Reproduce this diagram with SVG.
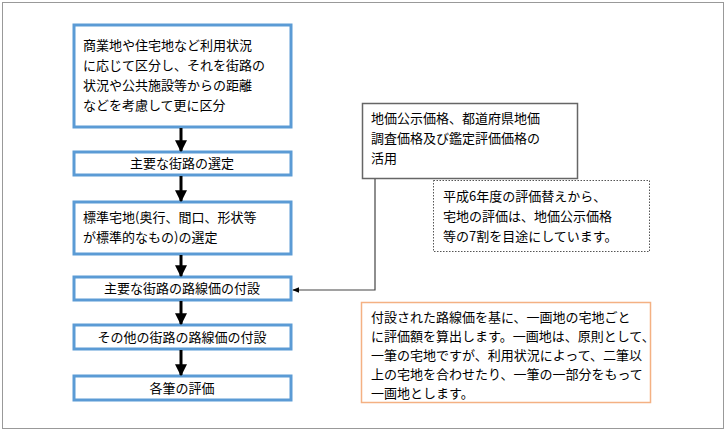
<svg xmlns="http://www.w3.org/2000/svg" width="727" height="432" viewBox="0 0 727 432">
<style>
text{font-family:"Noto Sans CJK JP","Noto Sans CJK SC",sans-serif;font-size:13px;fill:#000}
.b{fill:#fff;stroke:#5b9bd5;stroke-width:3}
.c{text-anchor:middle}
</style>
<defs>
<marker id="a" viewBox="0 0 10 10" refX="9" refY="5" markerWidth="4" markerHeight="4" orient="auto"><path d="M0,0L10,5L0,10z" fill="#000"/></marker>
<marker id="s" viewBox="0 0 10 10" refX="9" refY="5" markerWidth="6" markerHeight="6" orient="auto"><path d="M0,1L10,5L0,9z" fill="#000"/></marker>
</defs>
<rect x="2.5" y="2.5" width="721" height="426" fill="#fff" stroke="#999"/>
<g id="n1"><rect class="b" x="74" y="25" width="217" height="102"/>
<text x="83" y="50">商業地や住宅地など利用状況</text><text x="83" y="70">に応じて区分し、それを街路の</text><text x="83" y="90">状況や公共施設等からの距離</text><text x="83" y="110">などを考慮して更に区分</text></g>
<g id="n2"><rect class="b" x="74" y="152" width="217" height="23"/><text class="c" x="182" y="168">主要な街路の選定</text></g>
<g id="n3"><rect class="b" x="74" y="202" width="217" height="52"/><text x="83" y="222">標準宅地(奥行、間口、形状等</text><text x="83" y="242">が標準的なもの)の選定</text></g>
<g id="n4"><rect class="b" x="74" y="277" width="217" height="23"/><text class="c" x="182" y="293">主要な街路の路線価の付設</text></g>
<g id="n5"><rect class="b" x="74" y="325" width="217" height="24"/><text class="c" x="182" y="342">その他の街路の路線価の付設</text></g>
<g id="n6"><rect class="b" x="74" y="376" width="217" height="24"/><text class="c" x="182" y="393">各筆の評価</text></g>
<g id="n7"><rect x="362.5" y="103.5" width="215" height="75" fill="#fff" stroke="#666" stroke-width="1.5"/>
<text x="371" y="123">地価公示価格、都道府県地価</text><text x="371" y="143">調査価格及び鑑定評価価格の</text><text x="371" y="163">活用</text></g>
<g id="n8"><rect x="433.5" y="180.5" width="216" height="71" fill="#fff" stroke="#555" stroke-dasharray="1.5,1.5"/>
<text x="443" y="201">平成6年度の評価替えから、</text><text x="443" y="221">宅地の評価は、地価公示価格</text><text x="443" y="241">等の7割を目途にしています。</text></g>
<g id="n9"><rect x="361.5" y="302.5" width="289" height="100" fill="#fff" stroke="#f4b183" stroke-width="1.5"/>
<text x="371" y="322">付設された路線価を基に、一画地の宅地ごと</text><text x="371" y="341">に評価額を算出します。一画地は、原則として、</text><text x="371" y="360">一筆の宅地ですが、利用状況によって、二筆以</text><text x="371" y="379">上の宅地を合わせたり、一筆の一部分をもって</text><text x="371" y="398">一画地とします。</text></g>
<g id="edges" stroke="#000" fill="none">
<g stroke-width="3" marker-end="url(#a)">
<line x1="181" y1="128" x2="181" y2="151"/><line x1="181" y1="176" x2="181" y2="201"/><line x1="181" y1="255" x2="181" y2="276"/><line x1="181" y1="301" x2="181" y2="324"/><line x1="181" y1="350" x2="181" y2="375"/>
</g>
<polyline points="375,179 375,290 293,290" stroke="#444" stroke-width="1.2" marker-end="url(#s)"/>
</g>
</svg>
